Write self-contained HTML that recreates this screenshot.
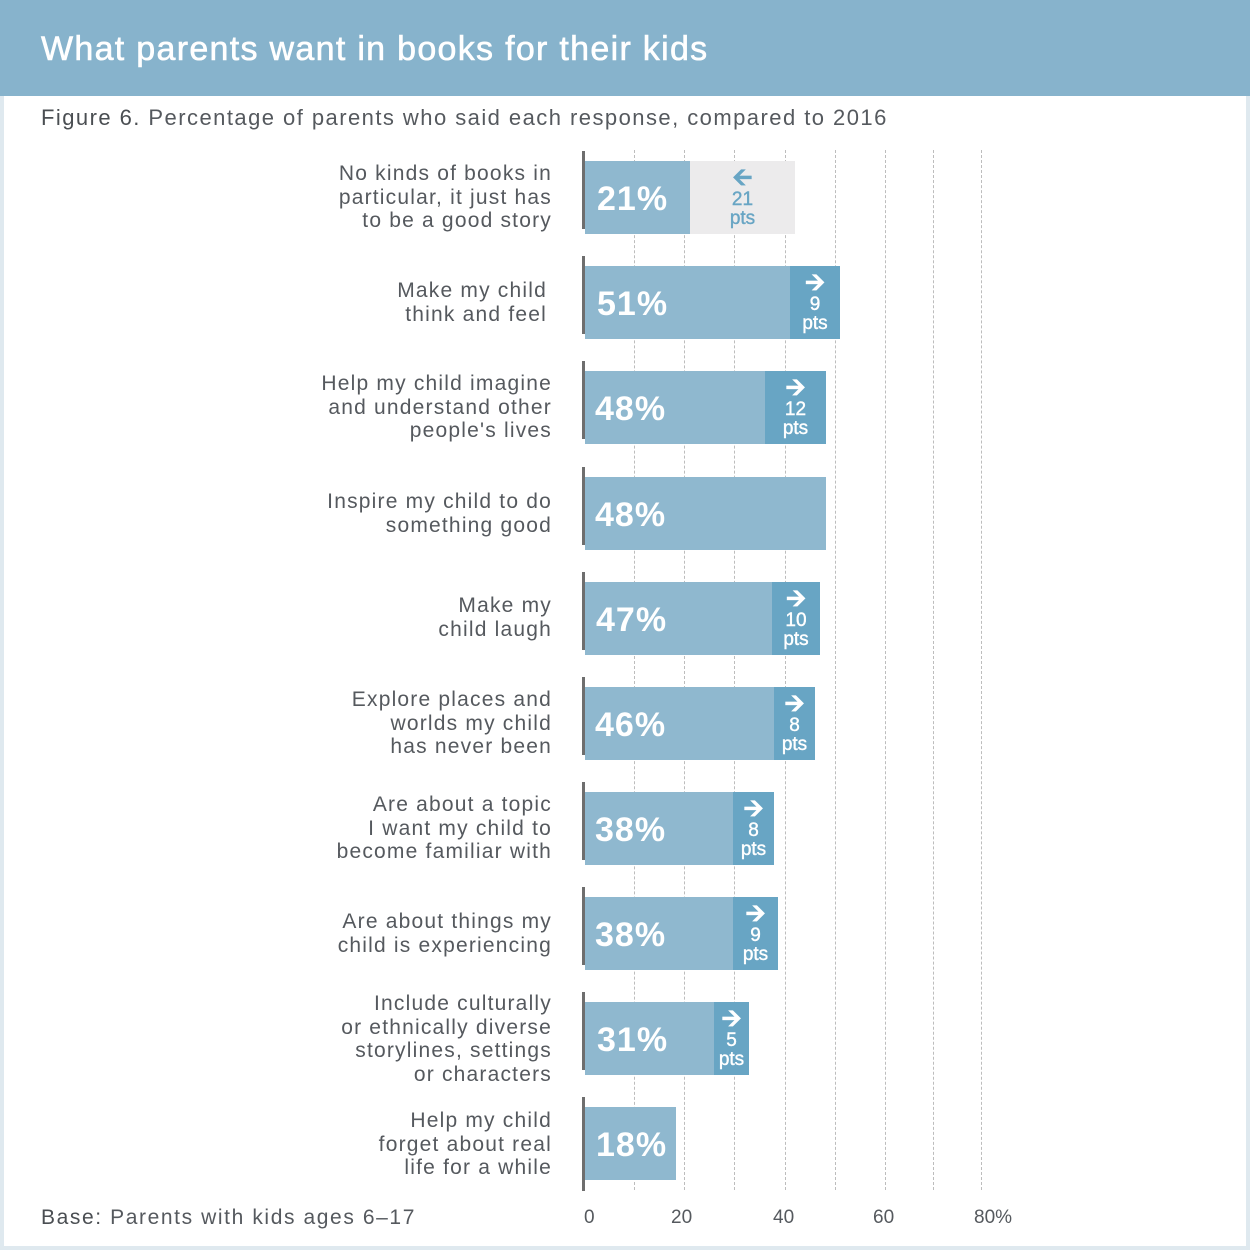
<!DOCTYPE html><html><head><meta charset="utf-8"><style>
body{margin:0;width:1250px;height:1250px;background:#dfe9ef;position:relative;overflow:hidden;font-family:"Liberation Sans",sans-serif}
#card{position:absolute;left:4px;top:0;width:1242px;height:1246px;background:#fff}
#hdr{position:absolute;left:0;top:0;width:1250px;height:96px;background:#87b3cc;color:#fff;font-size:34px;line-height:98px;padding-left:41px;box-sizing:border-box;letter-spacing:1.3px;-webkit-text-stroke:0.6px #fff}
.t{position:absolute;color:#55595e}
.lab{position:absolute;right:698px;text-align:right;font-size:21px;line-height:23.5px;color:#55595e;letter-spacing:1.2px}
.bar{position:absolute;height:73px;background:#8fb8cf}
.ext{position:absolute;height:73px;background:#68a5c4;color:#fff;text-align:center;font-size:19px;line-height:19px;-webkit-text-stroke:0.4px}
.pct{position:absolute;color:#fff;font-size:34px;font-weight:bold;line-height:77px;letter-spacing:1px}
.grid{position:absolute;top:150px;height:1040px;border-left:1.5px dashed #bdbdbd}
.axis{position:absolute;left:582px;width:3px;height:78px;background:#6e6e6e}
.arr{font-size:24px;font-weight:bold;line-height:24px;display:block;margin-top:5px}
</style></head><body>
<div id="card"></div>
<div id="hdr">What parents want in books for their kids</div>
<div class="t" style="left:41px;top:105px;font-size:22px;letter-spacing:1.45px"><span style="color:#4a4e52">Figure 6.</span> Percentage of parents who said each response, compared to 2016</div>
<div class="grid" style="left:634px"></div><div class="grid" style="left:684px"></div><div class="grid" style="left:734px"></div><div class="grid" style="left:785px"></div><div class="grid" style="left:835px"></div><div class="grid" style="left:885px"></div><div class="grid" style="left:933px"></div><div class="grid" style="left:981px"></div>

<div class="lab" style="top:162px">No kinds of books in<br>particular, it just has<br>to be a good story</div>
<div class="bar" style="left:585px;top:161px;width:105px"></div>
<div class="ext" style="left:690px;top:161px;width:105px;background:#ecebec;color:#68a5c4"><span class="arr">&#129128;</span>21<br>pts</div>

<div class="lab" style="top:279px;right:703px">Make my child<br>think and feel</div>
<div class="bar" style="left:585px;top:266px;width:205px"></div>
<div class="ext" style="left:790px;top:266px;width:50px"><span class="arr">&#129130;</span>9<br>pts</div>

<div class="lab" style="top:372px">Help my child imagine<br>and understand other<br>people's lives</div>
<div class="bar" style="left:585px;top:371px;width:180px"></div>
<div class="ext" style="left:765px;top:371px;width:61px"><span class="arr">&#129130;</span>12<br>pts</div>

<div class="lab" style="top:490px">Inspire my child to do<br>something good</div>
<div class="bar" style="left:585px;top:477px;width:241px"></div>

<div class="lab" style="top:594px">Make my<br>child laugh</div>
<div class="bar" style="left:585px;top:582px;width:187px"></div>
<div class="ext" style="left:772px;top:582px;width:48px"><span class="arr">&#129130;</span>10<br>pts</div>

<div class="lab" style="top:688px">Explore places and<br>worlds my child<br>has never been</div>
<div class="bar" style="left:585px;top:687px;width:189px"></div>
<div class="ext" style="left:774px;top:687px;width:41px"><span class="arr">&#129130;</span>8<br>pts</div>

<div class="lab" style="top:793px">Are about a topic<br>I want my child to<br>become familiar with</div>
<div class="bar" style="left:585px;top:792px;width:148px"></div>
<div class="ext" style="left:733px;top:792px;width:41px"><span class="arr">&#129130;</span>8<br>pts</div>

<div class="lab" style="top:910px">Are about things my<br>child is experiencing</div>
<div class="bar" style="left:585px;top:897px;width:148px"></div>
<div class="ext" style="left:733px;top:897px;width:45px"><span class="arr">&#129130;</span>9<br>pts</div>

<div class="lab" style="top:992px">Include culturally<br>or ethnically diverse<br>storylines, settings<br>or characters</div>
<div class="bar" style="left:585px;top:1002px;width:129px"></div>
<div class="ext" style="left:714px;top:1002px;width:35px"><span class="arr">&#129130;</span>5<br>pts</div>

<div class="lab" style="top:1109px">Help my child<br>forget about real<br>life for a while</div>
<div class="bar" style="left:585px;top:1107px;width:91px"></div>

<div class="pct" style="left:597px;top:161px">21%</div>
<div class="pct" style="left:597px;top:266px">51%</div>
<div class="pct" style="left:595px;top:371px">48%</div>
<div class="pct" style="left:595px;top:477px">48%</div>
<div class="pct" style="left:596px;top:582px">47%</div>
<div class="pct" style="left:595px;top:687px">46%</div>
<div class="pct" style="left:595px;top:792px">38%</div>
<div class="pct" style="left:595px;top:897px">38%</div>
<div class="pct" style="left:597px;top:1002px">31%</div>
<div class="pct" style="left:596px;top:1107px">18%</div>

<div class="axis" style="top:151px"></div><div class="axis" style="top:256px"></div><div class="axis" style="top:361px"></div><div class="axis" style="top:467px"></div><div class="axis" style="top:572px"></div><div class="axis" style="top:677px"></div><div class="axis" style="top:782px"></div><div class="axis" style="top:887px"></div><div class="axis" style="top:992px"></div><div class="axis" style="top:1097px;height:94px"></div>

<div class="t" style="left:41px;top:1206px;font-size:21px;letter-spacing:1.6px"><span style="color:#4a4e52">Base:</span> Parents with kids ages 6–17</div>
<div class="t" style="left:584px;top:1207px;font-size:19px">0</div>
<div class="t" style="left:671px;top:1207px;font-size:19px">20</div>
<div class="t" style="left:773px;top:1207px;font-size:19px">40</div>
<div class="t" style="left:873px;top:1207px;font-size:19px">60</div>
<div class="t" style="left:974px;top:1207px;font-size:19px">80%</div>
</body></html>
